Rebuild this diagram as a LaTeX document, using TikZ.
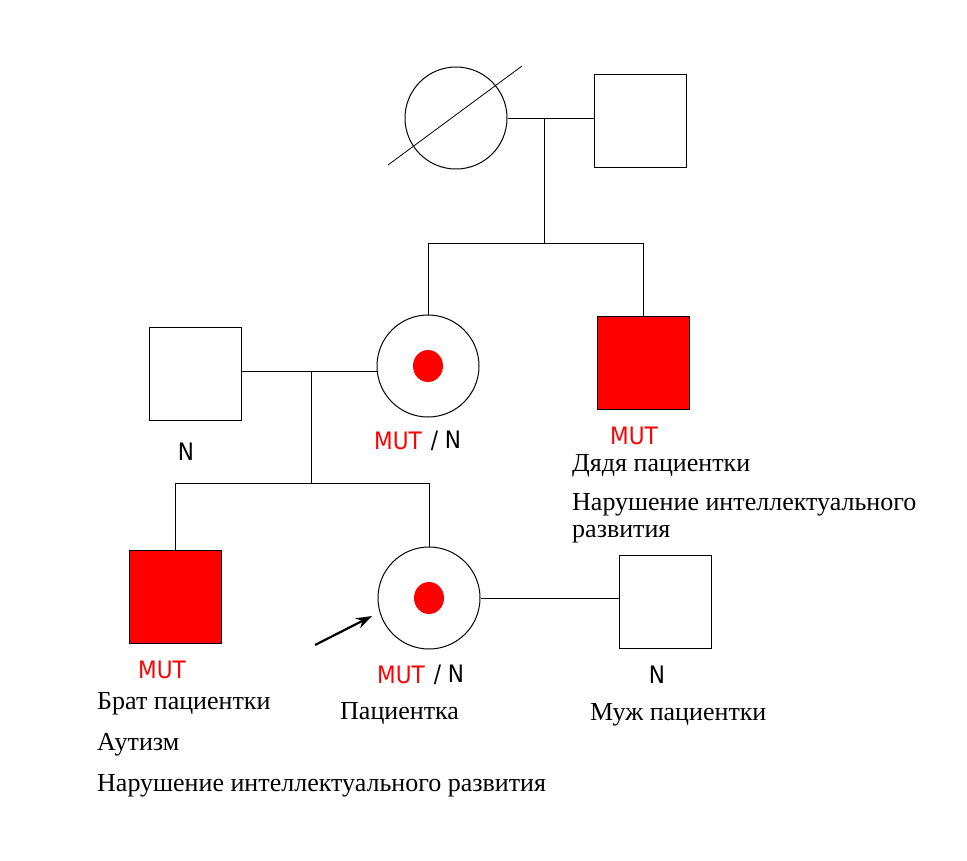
\documentclass[tikz,border=0pt]{standalone}
\usepackage{fontspec}
\usetikzlibrary{shapes.geometric,arrows.meta}
\setmainfont{Liberation Serif}
\newfontfamily\mutfont{DejaVu Sans}
\begin{document}
\begin{tikzpicture}[x=1pt,y=-1pt,
  line/.style={draw=black, line width=0.8pt},
  sq/.style={draw=black, line width=1pt, minimum width=92pt, minimum height=93pt, inner sep=0pt},
  circ/.style={draw=black, line width=1pt, circle, minimum size=102pt, inner sep=0pt},
  dot/.style={fill=red, ellipse, minimum width=30pt, minimum height=32pt, inner sep=0pt},
  txt/.style={anchor=west, font=\fontsize{26}{28}\selectfont, inner sep=0pt},
  mut/.style={font=\mutfont\fontsize{24}{26}\selectfont, inner sep=0pt, xscale=0.9},
  mutred/.style={mut, text=red}
]
\useasboundingbox (0,0) rectangle (967,860);
% generation I
\node[circ] (gm) at (456,118) {};
\node[sq] (gf) at (640,120.5) {};
\draw[line] (388,165) -- (522,66);
\coordinate (m1) at (544,118);
\draw[line] (gm.east) -- (gm.east -| gf.west);
\coordinate (s1) at (544,243);
\draw[line] (m1) -- (s1);
\coordinate (s1l) at (428,243);
\coordinate (s1r) at (643,243);
\draw[line] (s1l) -- (s1r);
% generation II
\node[circ] (mo) at (428,366) {};
\node[dot] at (mo.center) {};
\node[sq, fill=red] (un) at (643,362.5) {};
\node[sq] (fa) at (195,373.5) {};
\draw[line] (s1l) -- (mo.north);
\draw[line] (s1r) -- (un.north);
\coordinate (m2) at (311,371);
\draw[line] (fa.east |- m2) -- (mo.west |- m2);
\coordinate (s2) at (311,483);
\draw[line] (m2) -- (s2);
\coordinate (s2l) at (175,483);
\coordinate (s2r) at (429,483);
\draw[line] (s2l) -- (s2r);
% generation III
\node[sq, fill=red] (br) at (175,596.5) {};
\node[circ] (pa) at (429,598) {};
\node[dot] at (pa.center) {};
\node[sq] (hu) at (665,602) {};
\draw[line] (s2l) -- (br.north);
\draw[line] (s2r) -- (pa.north);
\draw[line] (pa.east) -- (hu.west |- pa.east);
\coordinate (arr) at (315,645);
\draw[line width=2.2pt, -{Stealth[length=16pt,width=11pt]}] (arr) -- (372,616);
% labels
\node[mut] (nfa) at (186,452) {N};
\node[mutred] (mmo) at (398,441) {MUT};
\node[mut] (nmo) at (446,441) {/ N};
\node[mutred] (mun) at (634,436) {MUT};
\node[txt] (t1) at (572,466) {Дядя пациентки};
\node[txt] (t2) at (572,505) {Нарушение интеллектуального};
\node[txt] (t3) at (572,534) {развития};
\node[mutred] (mbr) at (162,670) {MUT};
\node[txt] (t4) at (97,704) {Брат пациентки};
\node[txt] (t5) at (97,745) {Аутизм};
\node[txt] (t6) at (97,786) {Нарушение интеллектуального развития};
\node[mutred] (mpa) at (401,675) {MUT};
\node[mut] (npa) at (449,675) {/ N};
\node[txt] (t7) at (340,713) {Пациентка};
\node[mut] (nhu) at (657,675) {N};
\node[txt] (t8) at (590,715) {Муж пациентки};
\end{tikzpicture}
\end{document}
